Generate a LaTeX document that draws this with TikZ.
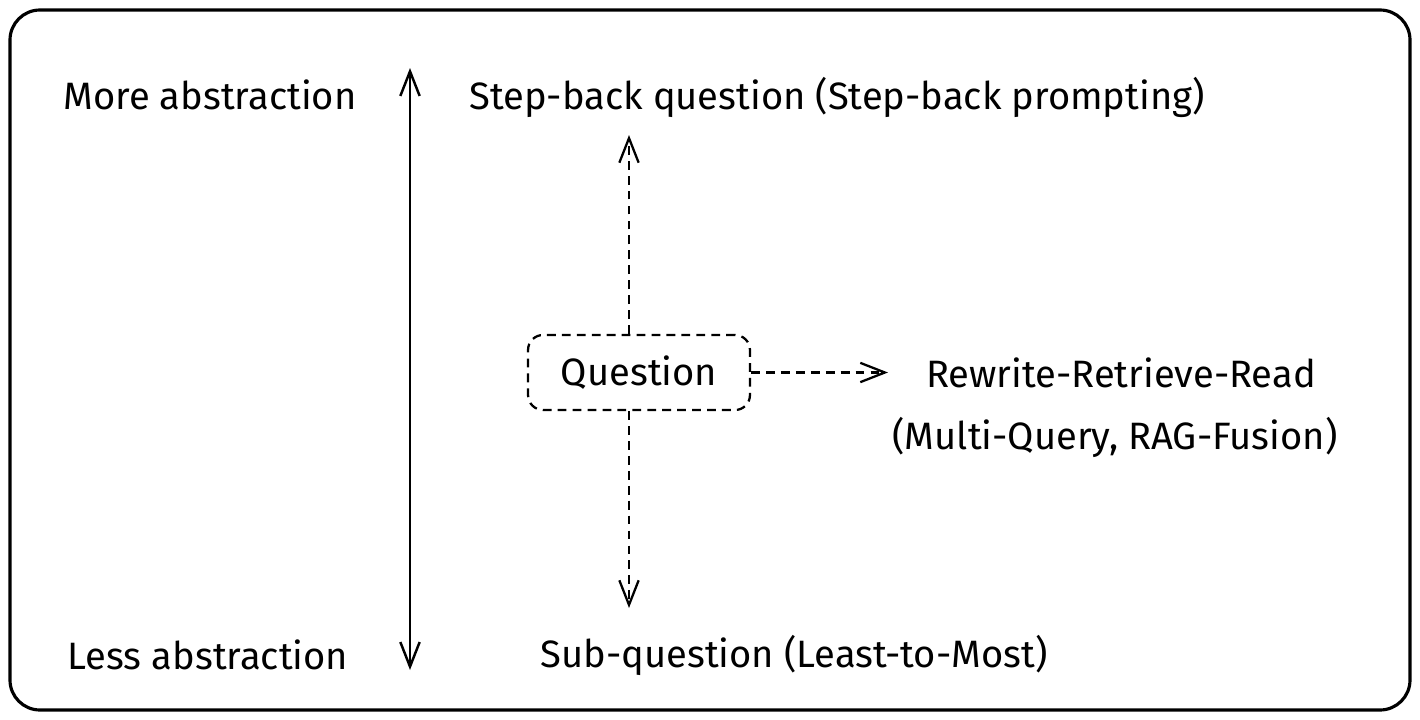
\documentclass[tikz,border=0pt]{standalone}
\usepackage{fontspec}
\setmainfont{Fira Sans}
\usetikzlibrary{arrows.meta}
\usetikzlibrary{positioning,calc}

\tikzset{
  lbl/.style={inner sep=0pt, font=\fontsize{21.7}{26}\selectfont},
  qbox/.style={draw, dashed, dash pattern=on 5pt off 3.5pt, line width=1.3pt,
    rounded corners=0.3cm, minimum width=4.44cm, minimum height=1.5cm,
    font=\fontsize{21.7}{26}\selectfont},
  vtip/.style={-{Straight Barb[length=14pt,width=11pt,line width=1.3pt]}},
  dasharrow/.style={vtip, line width=1.3pt, dash pattern=on 5pt off 3.5pt},
}

\begin{document}
\begin{tikzpicture}[x=0.02cm,y=-0.02cm]
   % frame
   \useasboundingbox (0,0) rectangle (1420,720);
   \draw[line width=1.8pt, rounded corners=0.6cm] (10,10) rectangle (1410,710);

   % abstraction scale
   \node[lbl] (more) at (210,95)  {More abstraction};
   \node[lbl] (less) at (208,655) {Less abstraction};
   \coordinate (scaletop) at (410,68);
   \coordinate (scalebot) at (410,670);
   \draw[line width=1.4pt, {Straight Barb[length=14pt,width=11pt,line width=1.4pt]}-{Straight Barb[length=14pt,width=11pt,line width=1.4pt]}]
      (scaletop) -- (scalebot);

   % question and rewrites
   \node[qbox] (q) at (639,372.5) {Question};

   \node[lbl] (stepback) at (837,97)  {Step-back question (Step-back prompting)};
   \node[lbl] (subq)     at (794,655) {Sub-question (Least-to-Most)};
   \node[lbl] (rrr)      at (1121,373) {Rewrite-Retrieve-Read};
   \node[lbl] (fusion)   at (1115,437) {(Multi-Query, RAG-Fusion)};

   \coordinate (uptip)    at (629,135);
   \coordinate (downtip)  at (629,608);
   \coordinate (righttip) at (888,372.5);

   \draw[dasharrow] (q.north -| uptip) -- (uptip);
   \draw[dasharrow] (q.south -| downtip) -- (downtip);
   \draw[dasharrow] (q.east) -- (righttip);
\end{tikzpicture}
\end{document}
